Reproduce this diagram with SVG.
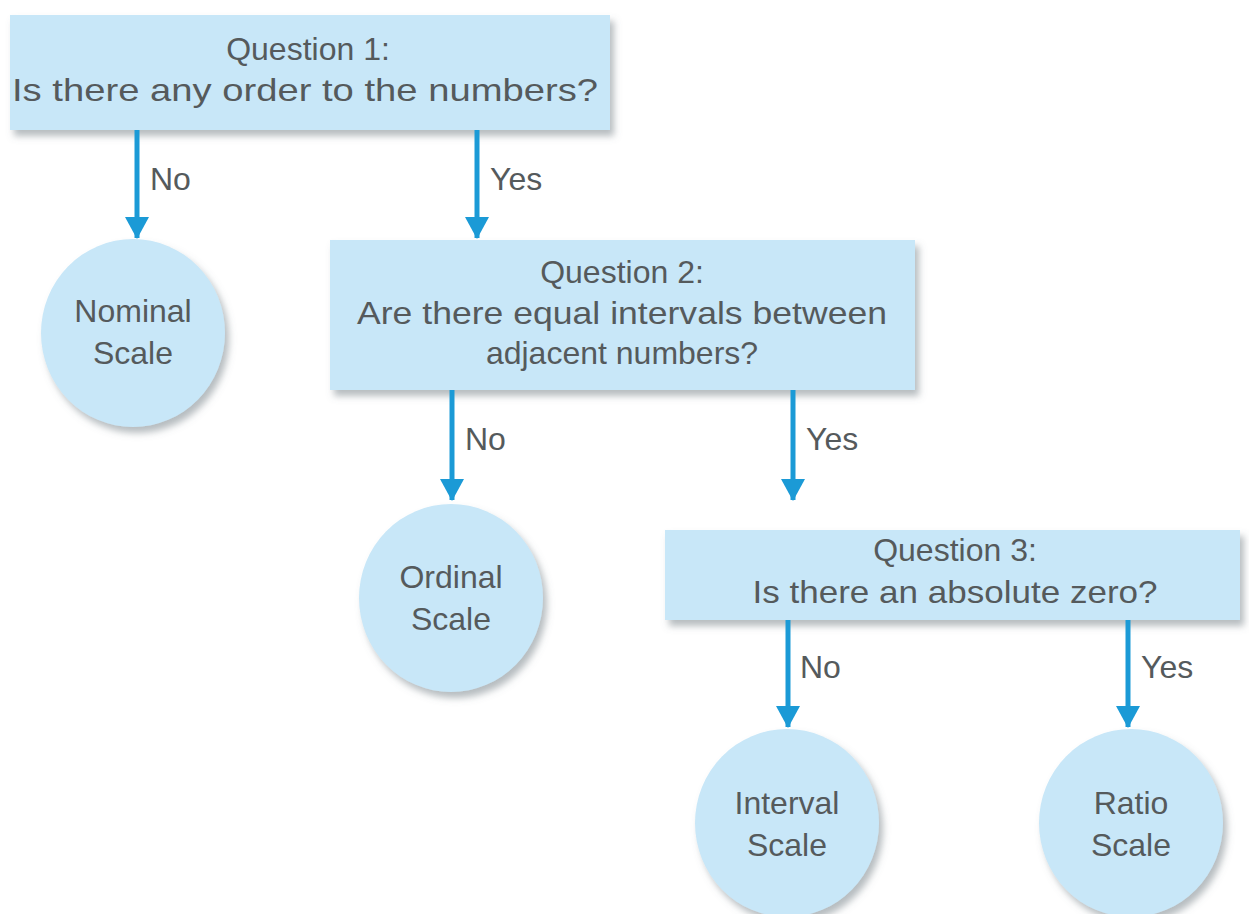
<svg xmlns="http://www.w3.org/2000/svg" width="1249" height="914" viewBox="0 0 1249 914">
  <defs>
    <filter id="shadow" x="-10%" y="-10%" width="130%" height="140%">
      <feDropShadow dx="4" dy="6" stdDeviation="3.5" flood-color="#6d7a80" flood-opacity="0.5"/>
    </filter>
    <!-- arrowhead drawn along +x so orient="auto" points it down the line -->
    <marker id="head" viewBox="0 0 22 24" refX="21" refY="12" markerWidth="22" markerHeight="24" markerUnits="userSpaceOnUse" orient="auto">
      <path d="M0,0 L22,12 L0,24 Z" fill="#1b9ad6"/>
    </marker>
  </defs>
  <style>
    .box { fill: #c8e7f8; filter: url(#shadow); }
    .leaf { fill: #c8e7f8; filter: url(#shadow); }
    .t { font-family: "Liberation Sans", Arial, sans-serif; font-size: 32px; fill: #555a5c; text-anchor: middle; }
    .lbl { font-family: "Liberation Sans", Arial, sans-serif; font-size: 32px; fill: #555a5c; }
    .arrow { stroke: #1b9ad6; stroke-width: 5; fill: none; }
  </style>
  <rect width="1249" height="914" fill="#ffffff"/>

  <!-- decision boxes -->
  <g id="q1">
    <rect class="box" x="10" y="15" width="600" height="115"/>
    <text class="t" x="308" y="60">Question 1:</text>
    <text class="t" x="305" y="101" textLength="586" lengthAdjust="spacingAndGlyphs">Is there any order to the numbers?</text>
  </g>
  <g id="q2">
    <rect class="box" x="330" y="240" width="585" height="150"/>
    <text class="t" x="622" y="283">Question 2:</text>
    <text class="t" x="622" y="324" textLength="530" lengthAdjust="spacingAndGlyphs">Are there equal intervals between</text>
    <text class="t" x="622" y="364">adjacent numbers?</text>
  </g>
  <g id="q3">
    <rect class="box" x="665" y="530" width="575" height="90"/>
    <text class="t" x="955" y="561">Question 3:</text>
    <text class="t" x="955" y="603" textLength="405" lengthAdjust="spacingAndGlyphs">Is there an absolute zero?</text>
  </g>

  <!-- outcome scales -->
  <g id="nominal">
    <ellipse class="leaf" cx="133" cy="333" rx="92" ry="94"/>
    <text class="t" x="133" y="322">Nominal</text>
    <text class="t" x="133" y="364">Scale</text>
  </g>
  <g id="ordinal">
    <ellipse class="leaf" cx="451" cy="598" rx="92" ry="94"/>
    <text class="t" x="451" y="588">Ordinal</text>
    <text class="t" x="451" y="630">Scale</text>
  </g>
  <g id="interval">
    <ellipse class="leaf" cx="787" cy="823" rx="92" ry="94"/>
    <text class="t" x="787" y="814">Interval</text>
    <text class="t" x="787" y="856">Scale</text>
  </g>
  <g id="ratio">
    <ellipse class="leaf" cx="1131" cy="823" rx="92" ry="94"/>
    <text class="t" x="1131" y="814">Ratio</text>
    <text class="t" x="1131" y="856">Scale</text>
  </g>

  <!-- connectors with branch labels -->
  <g id="connectors">
    <line class="arrow" x1="137" y1="130" x2="137" y2="238" marker-end="url(#head)"/>
    <text class="lbl" x="150" y="190">No</text>
    <line class="arrow" x1="477" y1="130" x2="477" y2="238" marker-end="url(#head)"/>
    <text class="lbl" x="490" y="190">Yes</text>

    <line class="arrow" x1="452" y1="390" x2="452" y2="500" marker-end="url(#head)"/>
    <text class="lbl" x="465" y="450">No</text>
    <line class="arrow" x1="793" y1="390" x2="793" y2="500" marker-end="url(#head)"/>
    <text class="lbl" x="806" y="450">Yes</text>

    <line class="arrow" x1="788" y1="620" x2="788" y2="727" marker-end="url(#head)"/>
    <text class="lbl" x="800" y="678">No</text>
    <line class="arrow" x1="1128" y1="620" x2="1128" y2="727" marker-end="url(#head)"/>
    <text class="lbl" x="1141" y="678">Yes</text>
  </g>
</svg>
